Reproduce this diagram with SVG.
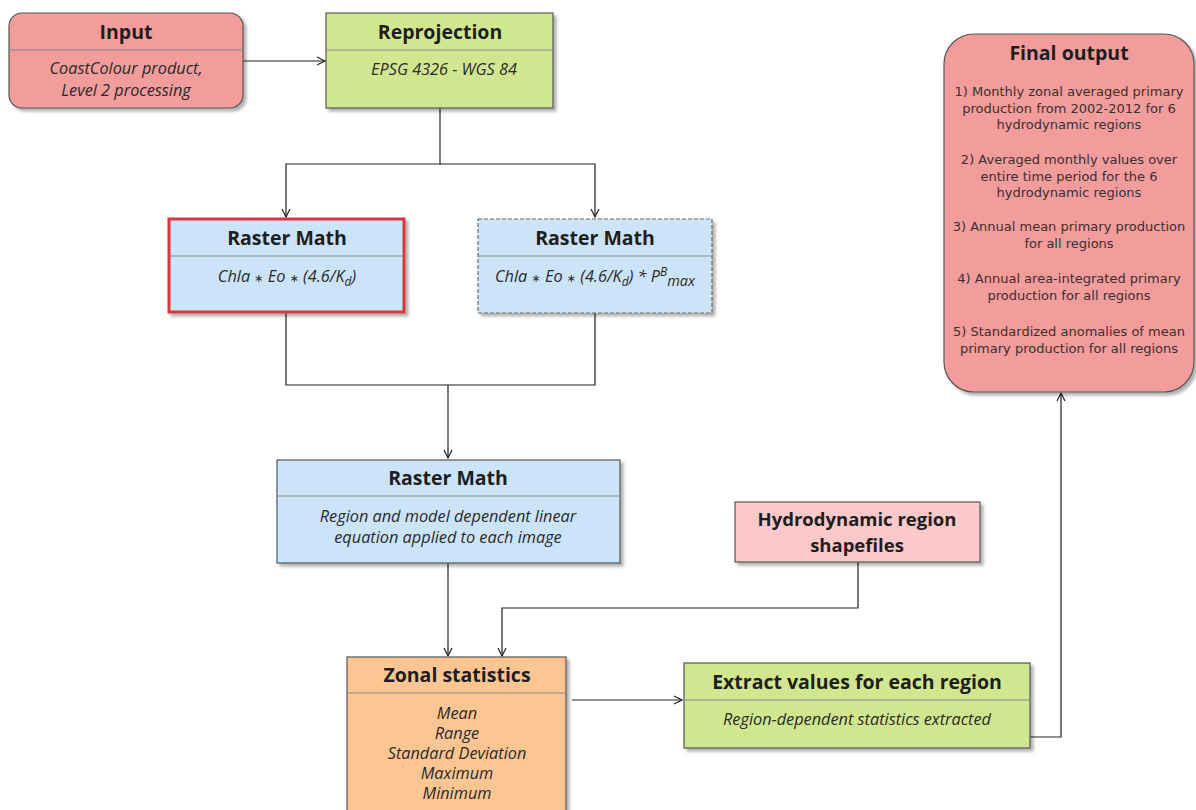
<svg xmlns="http://www.w3.org/2000/svg" width="1196" height="810" viewBox="0 0 1196 810">
<style>
.t{font-family:"Open Sans",Lato,"DejaVu Sans",sans-serif;font-weight:bold;font-size:19.5px;fill:#1e1e1e;text-anchor:middle}
.h{font-size:18.5px}
.b{font-family:"Open Sans",Lato,"DejaVu Sans",sans-serif;font-style:italic;font-size:16.3px;fill:#2a2a2a;text-anchor:middle}
.f{font-family:"DejaVu Sans",Verdana,sans-serif;font-size:13px;fill:#3a3030;text-anchor:middle}
.s{font-size:11px}
.div{stroke:#8a8a8a;stroke-width:1}
.box{stroke:#555;stroke-width:1.2}
.c{fill:none;stroke:#222;stroke-width:1.2}
</style>
<defs>
<filter id="sh" x="-10%" y="-10%" width="125%" height="130%">
<feDropShadow dx="3" dy="3" stdDeviation="1.5" flood-color="#000" flood-opacity="0.3"/>
</filter>
<marker id="ar" markerUnits="userSpaceOnUse" markerWidth="12" markerHeight="12" refX="9" refY="5" orient="auto">
<path d="M1,1 L9,5 L1,9" fill="none" stroke="#222" stroke-width="1.2"/>
</marker>
</defs>
<rect width="1196" height="810" fill="#fff"/>

<g id="connectors">
<path class="c" d="M243,61 H325" marker-end="url(#ar)"/>
<path class="c" d="M440,108 V164 H286 V217" marker-end="url(#ar)"/>
<path class="c" d="M440,164 H595 V217" marker-end="url(#ar)"/>
<path class="c" d="M286,313 V385 H595 V313"/>
<path class="c" d="M448,385 V458" marker-end="url(#ar)"/>
<path class="c" d="M448,563 V656" marker-end="url(#ar)"/>
<path class="c" d="M858,562 V608 H502 V656" marker-end="url(#ar)"/>
<path class="c" d="M572,700 H682" marker-end="url(#ar)"/>
<path class="c" d="M1030,737 H1061 V393" marker-end="url(#ar)"/>
</g>

<g id="input">
<rect class="box" x="9" y="13" width="234" height="95" rx="13" fill="#f29c9c" filter="url(#sh)"/>
<line class="div" x1="9" y1="50" x2="243" y2="50"/>
<text class="t" x="126" y="39">Input</text>
<text class="b" x="126" y="74">CoastColour product,</text>
<text class="b" x="126" y="96">Level 2 processing</text>
</g>

<g id="reprojection">
<rect class="box" x="326" y="13" width="227" height="95" fill="#d0e78f" filter="url(#sh)"/>
<line class="div" x1="326" y1="50" x2="553" y2="50"/>
<text class="t" x="440" y="39">Reprojection</text>
<text class="b" x="444" y="75">EPSG 4326 - WGS 84</text>
</g>

<g id="raster-math-1">
<rect x="169" y="219" width="235" height="93" fill="#cce4f9" stroke="#d8373a" stroke-width="3" filter="url(#sh)"/>
<line class="div" x1="170" y1="256" x2="403" y2="256"/>
<text class="t" x="287" y="245">Raster Math</text>
<text class="b" x="287" y="282">Chla <tspan class="s">∗</tspan> Eo <tspan class="s">∗</tspan> (4.6/K<tspan dy="4" font-size="12">d</tspan><tspan dy="-4">)</tspan></text>
</g>

<g id="raster-math-2">
<rect x="478" y="219" width="234" height="94" fill="#cce4f9" stroke="#666" stroke-width="1.2" stroke-dasharray="4 2" filter="url(#sh)"/>
<line class="div" x1="478" y1="256" x2="712" y2="256"/>
<text class="t" x="595" y="245">Raster Math</text>
<text class="b" x="595" y="282">Chla <tspan class="s">∗</tspan> Eo <tspan class="s">∗</tspan> (4.6/K<tspan dy="4" font-size="12">d</tspan><tspan dy="-4">) * P</tspan><tspan dy="-6" font-size="12">B</tspan><tspan dy="10" font-size="14.5">max</tspan></text>
</g>

<g id="raster-math-3">
<rect class="box" x="277" y="460" width="343" height="103" fill="#cce4f9" filter="url(#sh)"/>
<line class="div" x1="277" y1="496" x2="620" y2="496"/>
<text class="t" x="448" y="485">Raster Math</text>
<text class="b" x="448" y="522">Region and model dependent linear</text>
<text class="b" x="448" y="543">equation applied to each image</text>
</g>

<g id="hydrodynamic">
<rect class="box" x="735" y="502" width="245" height="60" fill="#fbc9c9" filter="url(#sh)"/>
<text class="t h" x="857" y="526">Hydrodynamic region</text>
<text class="t h" x="857" y="552">shapefiles</text>
</g>

<g id="zonal">
<rect class="box" x="347" y="657" width="219" height="160" fill="#fcc592" filter="url(#sh)"/>
<line class="div" x1="347" y1="693" x2="566" y2="693"/>
<text class="t" x="457" y="682">Zonal statistics</text>
<text class="b" x="457" y="719">Mean</text>
<text class="b" x="457" y="739">Range</text>
<text class="b" x="457" y="759">Standard Deviation</text>
<text class="b" x="457" y="779">Maximum</text>
<text class="b" x="457" y="799">Minimum</text>
</g>

<g id="extract">
<rect class="box" x="684" y="663" width="346" height="85" fill="#d0e78f" filter="url(#sh)"/>
<line class="div" x1="684" y1="700" x2="1030" y2="700"/>
<text class="t" x="857" y="689">Extract values for each region</text>
<text class="b" x="857" y="725">Region-dependent statistics extracted</text>
</g>

<g id="final-output">
<rect class="box" x="944" y="34" width="250" height="358" rx="30" fill="#f29c9c" filter="url(#sh)"/>
<text class="t" x="1069" y="60">Final output</text>
<text class="f" x="1069" y="96">1) Monthly zonal averaged primary</text>
<text class="f" x="1069" y="112.5">production from 2002-2012 for 6</text>
<text class="f" x="1069" y="129">hydrodynamic regions</text>
<text class="f" x="1069" y="164">2) Averaged monthly values over</text>
<text class="f" x="1069" y="180.5">entire time period for the 6</text>
<text class="f" x="1069" y="197">hydrodynamic regions</text>
<text class="f" x="1069" y="231">3) Annual mean primary production</text>
<text class="f" x="1069" y="247.5">for all regions</text>
<text class="f" x="1069" y="283">4) Annual area-integrated primary</text>
<text class="f" x="1069" y="299.5">production for all regions</text>
<text class="f" x="1069" y="336">5) Standardized anomalies of mean</text>
<text class="f" x="1069" y="352.5">primary production for all regions</text>
</g>
</svg>
